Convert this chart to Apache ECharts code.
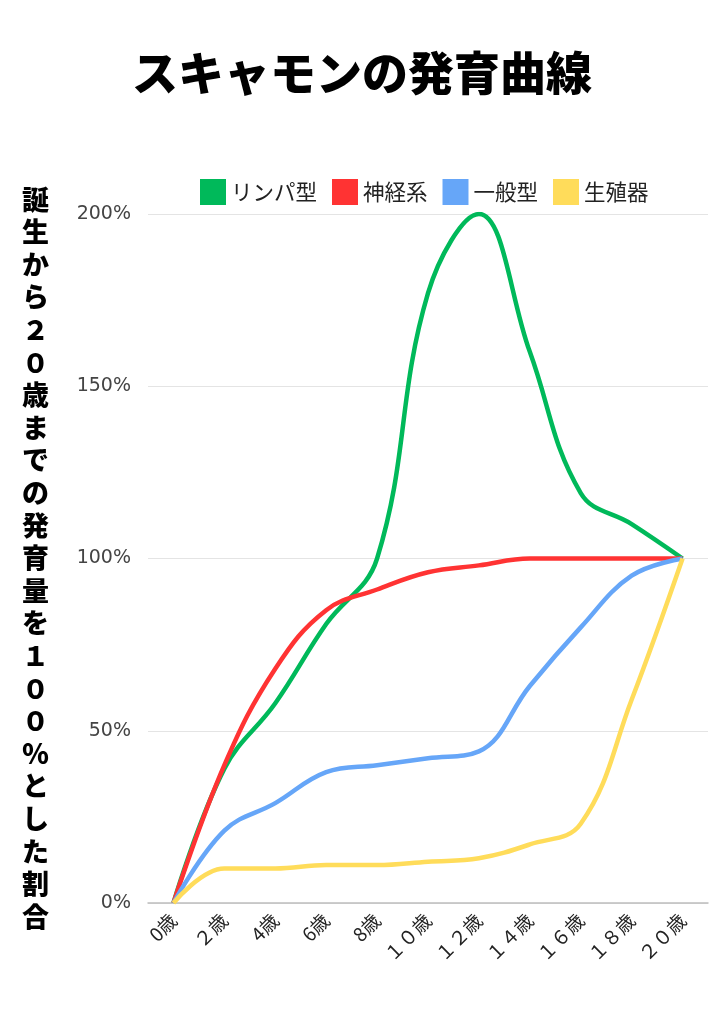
<!DOCTYPE html>
<html><head><meta charset="utf-8">
<script src="https://cdn.jsdelivr.net/npm/echarts@6/dist/echarts.min.js"></script>
<style>html,body{margin:0;padding:0;background:#fff}#c{width:724px;height:1024px}</style>
</head><body><div id="c"></div>
<script>
const categories = ['0歳','２歳','4歳','6歳','8歳','１０歳','１２歳','１４歳','１６歳','１８歳','２０歳'];
const seriesNames = ['リンパ型','神経系','一般型','生殖器'];
const lymph   = [0, 39, 58, 81, 100, 177, 200, 160, 119, 110, 100];
const neural  = [0, 40, 68, 85, 91, 96, 98, 100, 100, 100, 100];
const general = [0, 21, 29, 38, 40, 42, 44, 63, 80, 95, 100];
const genital = [0, 10, 10, 11, 11, 12, 13, 17, 23, 59, 100];
const yTicks = [0, 50, 100, 150, 200];
const titleText = 'スキャモンの発育曲線';
const yName = '誕生から２０歳までの発育量を１００％とした割合';
const colors = ['#00b95a', '#ff3333', '#66a6f8', '#ffdc5a'];

const chart = echarts.init(document.getElementById('c'));
const data = [lymph, neural, general, genital];
chart.setOption({
  animation: false,
  color: colors,
  title: {
    text: titleText, left: 'center', top: 45,
    textStyle: { fontFamily: 'Noto Sans CJK JP', fontWeight: 900, fontSize: 46, color: '#000' }
  },
  legend: {
    left: 200, top: 179, padding: 0, itemWidth: 26, itemHeight: 26, itemGap: 15,
    icon: 'rect',
    textStyle: { fontFamily: 'Noto Sans CJK JP', fontSize: 21.5, color: '#222' },
    data: seriesNames
  },
  graphic: [{
    type: 'text', left: 22, top: 183,
    style: {
      text: yName.split('').join('\n'),
      fontFamily: 'Noto Sans CJK JP', fontWeight: 900, fontSize: 27, lineHeight: 32.6,
      fill: '#000', align: 'center'
    }
  }],
  grid: { left: 148, right: 16, top: 214, bottom: 121 },
  xAxis: {
    type: 'category', data: categories, boundaryGap: true,
    axisTick: { show: false },
    axisLine: { lineStyle: { color: '#bdbdbd', width: 1.5 } },
    axisLabel: { rotate: 45, fontFamily: 'Noto Sans CJK JP', fontSize: 19, color: '#222', margin: 14, interval: 0 }
  },
  yAxis: {
    type: 'value', min: yTicks[0], max: yTicks[yTicks.length-1], interval: yTicks[1]-yTicks[0],
    axisLine: { show: false }, axisTick: { show: false },
    splitLine: { lineStyle: { color: '#e4e4e4', width: 1 } },
    axisLabel: { formatter: '{value}%', fontFamily: 'DejaVu Sans', fontSize: 19, color: '#444', margin: 17 }
  },
  series: data.map((d, i) => ({
    name: seriesNames[i], type: 'line', data: d, smooth: 0.4,
    showSymbol: false, symbol: 'none',
    lineStyle: { width: 4.5, color: colors[i] }
  }))
});
</script></body></html>
